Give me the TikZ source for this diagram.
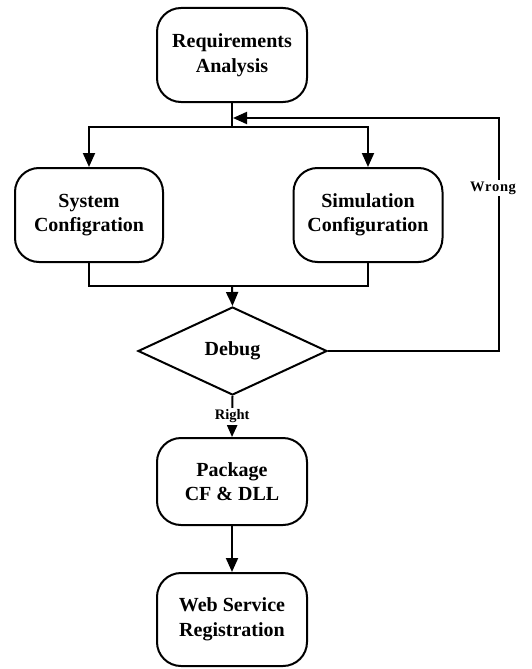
\documentclass[tikz,border=0pt]{standalone}
\usepackage{fontspec}
\setmainfont{Liberation Serif}
\usetikzlibrary{shapes.geometric,arrows.meta}
\begin{document}
\begin{tikzpicture}[x=1pt,y=-1pt,
  box/.style={draw, line width=2pt, rounded corners=24pt, minimum width=150pt, minimum height=94pt, align=center, font=\fontsize{20}{24.5}\selectfont\bfseries, inner sep=0pt},
  dec/.style={draw, diamond, line width=2pt, minimum width=189pt, minimum height=88pt, inner sep=0pt, font=\fontsize{20}{24}\selectfont\bfseries},
  ln/.style={line width=2pt},
  arr/.style={line width=2pt, -{Triangle[length=14pt,width=12pt]}},
  lbl/.style={fill=white, inner sep=1.5pt, font=\fontsize{14.5}{16}\selectfont\bfseries}
]
\useasboundingbox (0,0) rectangle (532,669);
\node[box] (req) at (232,55) {Requirements\\Analysis};
\node[box, minimum width=148pt] (sys) at (89,215) {System\\Configration};
\node[box, minimum width=149pt] (sim) at (368,215) {Simulation\\Configuration};
\node[dec] (dbg) at (232.5,351) {Debug};
\node[box, minimum height=87pt] (pkg) at (232,481.5) {Package\\CF \& DLL};
\node[box, minimum height=93pt] (web) at (232,619.5) {Web Service\\Registration};

\coordinate (jt) at (232,127);
\coordinate (jb) at (232,286);
\coordinate (wr) at (499,118);
\coordinate (jw) at (233,118);

\draw[ln] (req.south) -- (jt);
\draw[arr] (jt) -| (sys.north);
\draw[arr] (jt) -| (sim.north);
\draw[ln] (sys.south) |- (jb) -| (sim.south);
\draw[arr] (jb) -- (dbg.north);
\draw[arr] (dbg.east) -| (wr) -- (jw);
\node[lbl] (wrong) at (493,188) {W\kern0.6pt r\kern0.6pt o\kern0.6pt n\kern0.6pt g};
\draw[arr] (dbg.south) -- node[lbl, midway] (right) {Right} (pkg.north);
\draw[arr] (pkg.south) -- (web.north);
\end{tikzpicture}
\end{document}
